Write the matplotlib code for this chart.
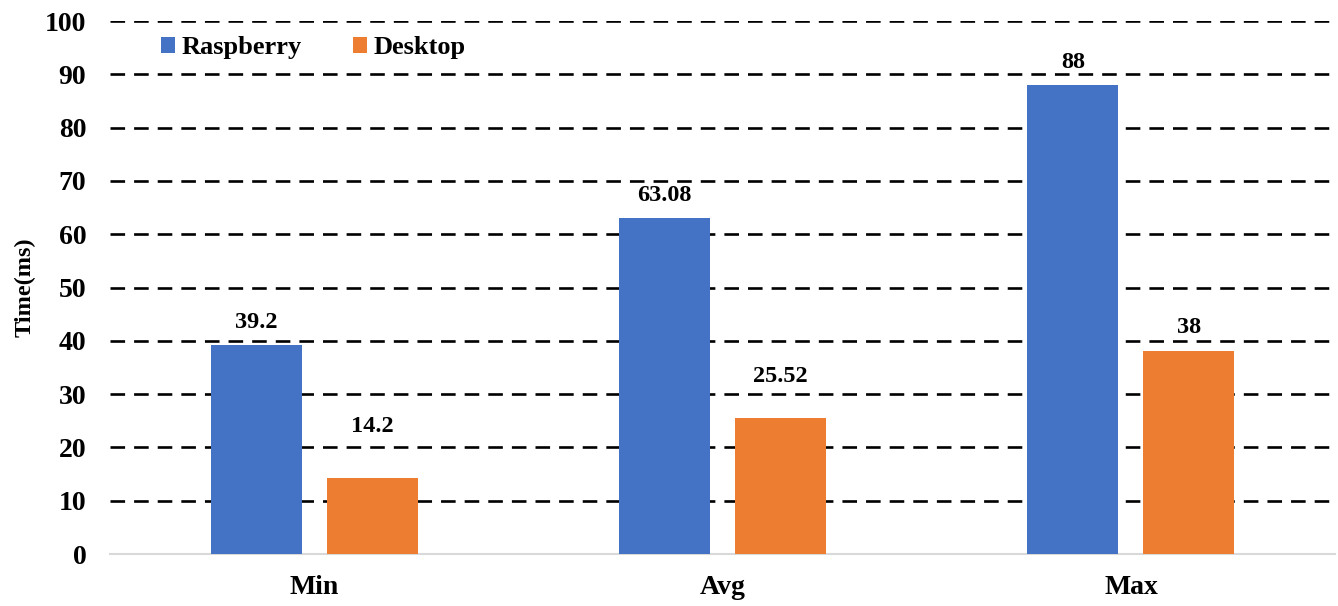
import numpy as np
import matplotlib
matplotlib.use("Agg")
import matplotlib.pyplot as plt

# chart data
categories = ["Min", "Avg", "Max"]
raspberry = [39.2, 63.08, 88]
desktop = [14.2, 25.52, 38]
raspberry_labels = ["39.2", "63.08", "88"]
desktop_labels = ["14.2", "25.52", "38"]

plt.rcParams['font.family'] = ['Liberation Serif', 'DejaVu Serif']
plt.rcParams['font.weight'] = 'bold'
plt.rcParams['lines.scale_dashes'] = False

blue = "#4472C4"
orange = "#ED7D31"

fig = plt.figure(figsize=(13.38, 6.06), dpi=100)
ax = fig.add_axes([0.0822, 0.0858, 0.9156, 0.8795])

x = np.arange(len(categories))
w = 0.223
off = 0.142
ax.bar(x - off, raspberry, w, color=blue, label="Raspberry", zorder=3)
ax.bar(x + off, desktop, w, color=orange, label="Desktop", zorder=3)

# label offsets in points above bar tops (manual placement as in original)
r_off = [16, 16, 16]
d_off = [37, 30, 17]
for i in range(len(categories)):
    ax.annotate(raspberry_labels[i], (x[i] - off, raspberry[i]), xytext=(0, r_off[i]),
                textcoords="offset points", ha="center", va="center", fontsize=17.5, fontweight="bold")
    ax.annotate(desktop_labels[i], (x[i] + off, desktop[i]), xytext=(0, d_off[i]),
                textcoords="offset points", ha="center", va="center", fontsize=17.5, fontweight="bold")

ax.set_xlim(-0.5, 2.5)
ax.set_ylim(0, 100)
ax.set_yticks(np.arange(0, 101, 10))
ax.set_xticks(x)
ax.set_xticklabels(categories, fontsize=20, fontweight="bold")
ax.tick_params(axis="y", labelsize=20, length=0, pad=17)
ax.tick_params(axis="x", length=0, pad=15)
ax.yaxis.grid(True, color="black", linewidth=1.9, linestyle=(0, (10.5, 6.5)), zorder=0)
ax.set_axisbelow(True)
for s in ["top", "right", "left"]:
    ax.spines[s].set_visible(False)
ax.spines["bottom"].set_color("#D9D9D9")
ax.spines["bottom"].set_linewidth(1.5)
ax.set_ylabel("Time(ms)", fontsize=17.5, fontweight="bold", labelpad=7)

ax.legend(loc="upper left", bbox_to_anchor=(0.0224, 1.016), ncol=2, frameon=False,
          handlelength=0.53, handleheight=0.53, handletextpad=0.25,
          columnspacing=1.93, prop={"weight": "bold", "size": 19})

fig.savefig("out.png", dpi=100)
